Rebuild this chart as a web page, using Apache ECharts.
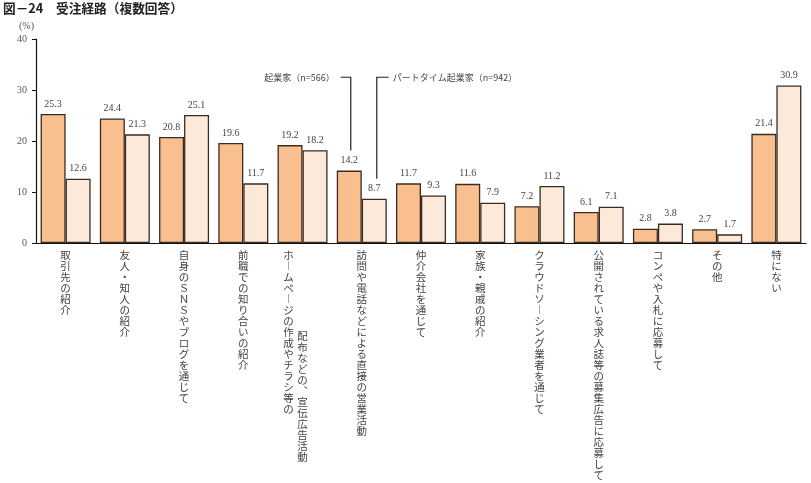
<!DOCTYPE html>
<html><head><meta charset="utf-8">
<script src="https://cdn.jsdelivr.net/npm/echarts@6/dist/echarts.min.js"></script>
<style>html,body{margin:0;padding:0;background:#fff}#c{width:811px;height:483px}</style>
</head><body><div id="c"></div>
<script>
const titleText = '図－24　受注経路（複数回答）';
const categories = ['取引先の紹介','友人・知人の紹介','自身のＳＮＳやブログを通じて','前職での知り合いの紹介','ホームページの作成やチラシ等の配布などの、宣伝広告活動','訪問や電話などによる直接の営業活動','仲介会社を通じて','家族・親戚の紹介','クラウドソーシング業者を通じて','公開されている求人誌等の募集広告に応募して','コンペや入札に応募して','その他','特にない'];
const seriesNames = ['起業家（n=566）','パートタイム起業家（n=942）'];
const entrepreneur = [25.3,24.4,20.8,19.6,19.2,14.2,11.7,11.6,7.2,6.1,2.8,2.7,21.4];
const partTime = [12.6,21.3,25.1,11.7,18.2,8.7,9.3,7.9,11.2,7.1,3.8,1.7,30.9];
const yTicks = [0,10,20,30,40];
const splitIndex = 4, splitAt = 15; // two-column label

const CJK = '"Noto Sans CJK JP", sans-serif';
const SERIF = '"Liberation Serif", "DejaVu Serif", serif';
const vmap = {'ー':'︱','、':'︑'};
function vert(s){ return s.split('').map(c=>vmap[c]||c); }

const chart = echarts.init(document.getElementById('c'));
const labelStyle = {fontFamily: CJK, fontSize: 10.5, lineHeight: 11, color: '#444'};
chart.setOption({
  animation: false,
  title: {text: titleText, left: 3, top: 2, padding: 0, textStyle: {fontFamily: CJK, fontSize: 12.7, fontWeight: 'bold', color: '#222'}},
  grid: {left: 36, right: 5, top: 39, bottom: 240, containLabel: false},
  xAxis: [{
    type: 'category', data: categories, position: 'bottom',
    axisLine: {lineStyle: {color: '#111', width: 1.2}},
    axisTick: {show: false},
    axisLabel: {interval: 0, margin: 7, ...labelStyle,
      formatter: (v, i) => {
        if (i === splitIndex) return vert(v.slice(0, splitAt)).map(c => '{s|' + c + '}').join('\n');
        return vert(v).join('\n');
      },
      rich: {s: {...labelStyle, padding: [0, 28, 0, 0]}}
    }
  }, {
    type: 'category', data: categories, position: 'bottom',
    axisLine: {show: false}, axisTick: {show: false},
    axisLabel: {interval: 0, margin: 88, ...labelStyle,
      formatter: (v, i) => i === splitIndex ? vert(v.slice(splitAt)).join('\n') : ''
    }
  }],
  yAxis: {
    type: 'value', min: yTicks[0], max: yTicks[yTicks.length-1], interval: 10,
    name: '(%)', nameLocation: 'end', nameGap: 8,
    nameTextStyle: {fontFamily: SERIF, fontSize: 10, color: '#555', align: 'right', padding: [0, 2, 0, 0]},
    axisLine: {show: true, lineStyle: {color: '#111', width: 1.2}},
    axisTick: {show: true, length: 4, lineStyle: {color: '#111'}},
    splitLine: {show: false},
    axisLabel: {fontFamily: SERIF, fontSize: 10, color: '#555', margin: 9}
  },
  series: [
    {name: seriesNames[0], type: 'bar', data: entrepreneur, barWidth: 25, barGap: '0%',
     itemStyle: {color: '#F9BF8F', borderColor: '#3a2c22', borderWidth: 1.3},
     label: {show: true, position: 'top', distance: 5, fontFamily: SERIF, fontSize: 10, color: '#444'}},
    {name: seriesNames[1], type: 'bar', data: partTime, barWidth: 25, barGap: '0%',
     itemStyle: {color: '#FDE9D9', borderColor: '#3a2c22', borderWidth: 1.3},
     label: {show: true, position: 'top', distance: 5, fontFamily: SERIF, fontSize: 10, color: '#444'}}
  ]
});

// leader-line annotations anchored to the 6th category's bars
(function(){
  const annIdx = 5;
  const model = chart.getModel();
  const yLine = chart.convertToPixel({yAxisIndex: 0}, 32.5);
  const els = [];
  [0,1].forEach(si => {
    const lay = model.getSeriesByIndex(si).getData().getItemLayout(annIdx);
    const xc = lay.x + lay.width / 2 + (si === 0 ? 1.5 : 2.5);
    const top = lay.y + lay.height;
    const h = si === 0 ? -10 : 12;
    els.push({type: 'polyline', shape: {points: [[xc + h, yLine], [xc, yLine], [xc, top - 20]]},
      style: {stroke: '#222', lineWidth: 1.2, fill: null}});
    els.push({type: 'text', x: si === 0 ? xc - 16 : xc + 16, y: yLine,
      style: {text: seriesNames[si], fontFamily: CJK, fontSize: 9, fill: '#444',
        align: si === 0 ? 'right' : 'left', verticalAlign: 'middle'}});
  });
  chart.setOption({graphic: els});
})();
</script></body></html>
